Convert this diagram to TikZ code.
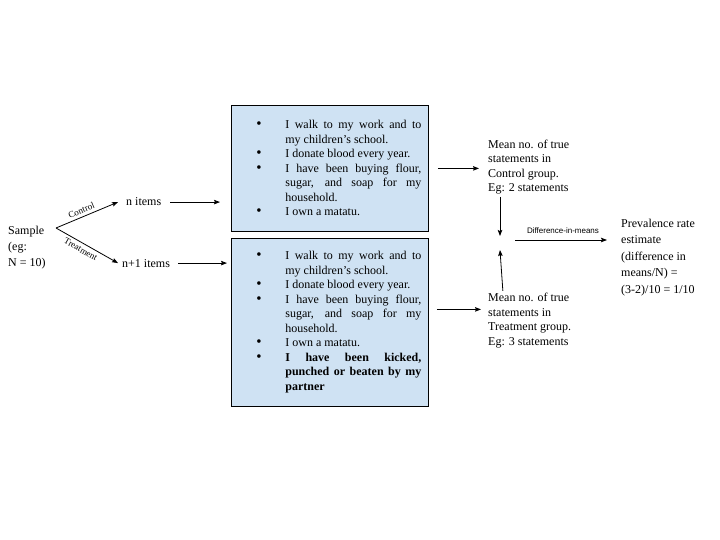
\documentclass[tikz,border=0pt]{standalone}
\usepackage{fontspec}
\setmainfont{Liberation Serif}
\setsansfont{Liberation Sans}
\usetikzlibrary{calc, positioning, arrows.meta}
\definecolor{boxfill}{HTML}{CFE2F3}
\def\boxwidth{197pt}
\def\boxlinewidth{0.8pt}
\def\linkwidth{0.8pt}
\newenvironment{statementlist}{%
	\vspace*{-7pt}%
	\spaceskip=3pt plus 3pt minus 0pt
	\begin{list}{{\fontsize{15}{15}\selectfont\textbullet}}{%
		\setlength{\leftmargin}{54pt}%
		\setlength{\rightmargin}{7pt}%
		\setlength{\labelwidth}{29pt}%
		\setlength{\labelsep}{0pt}%
		\setlength{\itemsep}{0pt}%
		\setlength{\parsep}{0pt}%
		\setlength{\topsep}{0pt}%
		\setlength{\partopsep}{0pt}%
		\renewcommand{\makelabel}[1]{##1\hfil}}%
	}{\end{list}}
\tikzset{
	% plain texts
	plaintext/.style={
		font=\fontsize{12}{14.5}\selectfont,
		align=left,
		inner sep=0pt,
		anchor=base west,
	},
	% statement boxes
	statements/.style={
		shape=rectangle,
		draw=black,
		line width=\boxlinewidth,
		fill=boxfill,
		text width=\boxwidth,
		align=justify,
		font=\fontsize{12}{14.5}\selectfont,
		inner sep=0pt,
		anchor=north west,
	},
	% labels on arrows
	arrowlabel/.style={
		font=\fontsize{9}{10}\selectfont,
		inner sep=3pt,
	},
	% connections
	connection/.style={
		line width=\linkwidth,
		-{Stealth[length=6pt, width=4.5pt, inset=1pt]},
	}
}
\begin{document}
\begin{tikzpicture}[x=1pt, y=-1pt]
		\useasboundingbox (0,0) rectangle (720,540);
		% Sample and the two groups
		\node[
			plaintext,
			font=\fontsize{12}{16}\selectfont
		] (sample) at (8,266) {Sample\\(eg:\\N = 10)};
		\coordinate (fork) at (56,228);
		%
		\node[
			plaintext
		] (control_items) at (126,206) {n items};
		%
		\node[
			plaintext
		] (treatment_items) at (122,267) {n+1 items};
		
		% Statement lists
		\node[
			statements,
			minimum height=126pt
		] (control_box) at (231,105) {
			\begin{statementlist}
				\item I walk to my work and to my children's school.
				\item I donate blood every year.
				\item I have been buying flour, sugar, and soap for my household.
				\item I own a matatu.
			\end{statementlist}};
		%
		\node[
			statements,
			minimum height=168pt
		] (treatment_box) at (231,238) {
			\begin{statementlist}
				\item I walk to my work and to my children's school.
				\item I donate blood every year.
				\item I have been buying flour, sugar, and soap for my household.
				\item I own a matatu.
				\item \textbf{I have been kicked, punched or beaten by my partner}
			\end{statementlist}};
		
		% Group means
		\node[
			plaintext
		] (control_mean) at (488,192)
			{Mean no. of true\\statements in\\Control group.\\Eg: 2 statements};
		%
		\node[
			plaintext
		] (treatment_mean) at (488,345)
			{Mean no. of true\\statements in\\Treatment group.\\Eg: 3 statements};
		\coordinate (down_end) at (500,236);
		\coordinate (up_end) at (500,250);
		\coordinate (diff_start) at (515,240);
		
		% Estimate
		\node[
			plaintext,
			font=\fontsize{12}{16.5}\selectfont
		] (prevalence) at (621,293)
			{Prevalence rate\\estimate\\(difference in\\means/N) =\\(3-2)/10 = 1/10};
		
		% Connections
		%% Sample -> groups
		\draw [
			connection
		] (fork) -- node[arrowlabel, sloped, above, pos=0.45] (control_label) {Control}
		  ([xshift=-8pt]control_items.west);
		\draw [
			connection
		] (fork) -- node[arrowlabel, sloped, below, pos=0.45] (treatment_label) {Treatment}
		  ([xshift=-4pt]treatment_items.west);
		%% groups -> lists
		\draw [
			connection,
			shorten <=9pt, shorten >=11pt
		] (control_items.east) -- (control_items.east -| control_box.west);
		\draw [
			connection,
			shorten <=8pt, shorten >=4pt
		] (treatment_items.east) -- (treatment_items.east -| treatment_box.west);
		%% lists -> means
		\draw [
			connection,
			shorten <=9pt, shorten >=9pt
		] (control_box.east) -- (control_box.east -| control_mean.west);
		\draw [
			connection,
			shorten <=8pt, shorten >=7pt
		] ([yshift=13pt]treatment_box.east) -- ([yshift=13pt]treatment_box.east -| treatment_mean.west);
		%% means -> difference
		\draw [
			connection,
			shorten <=2pt
		] ([xshift=12pt]control_mean.south west) -- (down_end);
		\draw [
			connection,
			shorten <=2pt
		] ([xshift=15pt]treatment_mean.north west) -- (up_end);
		%% difference -> estimate
		\draw [
			connection,
			shorten >=14pt
		] (diff_start) -- node[arrowlabel, font=\sffamily\fontsize{8}{9}\selectfont, above=3pt, xshift=-5pt] (diff_label) {Difference-in-means}
		  (diff_start -| prevalence.west);
	\end{tikzpicture}
\end{document}
